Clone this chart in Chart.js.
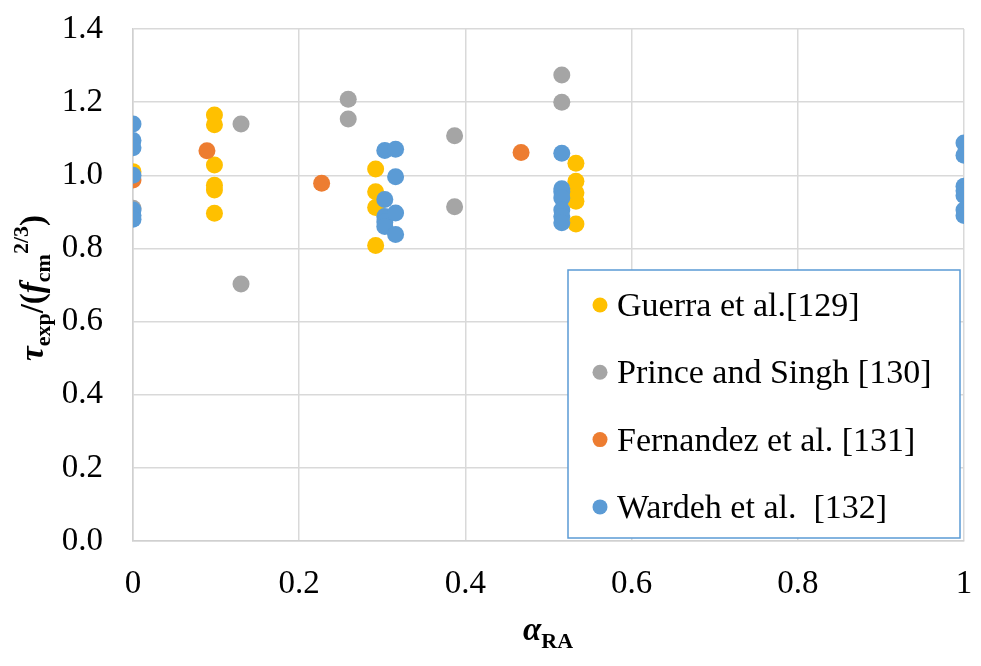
<!DOCTYPE html>
<html>
<head>
<meta charset="utf-8">
<script src="https://cdn.jsdelivr.net/npm/chart.js@4/dist/chart.umd.min.js"></script>
<style>
  body { margin: 0; background: #fff; }
  #wrap { width: 981px; height: 666px; }
</style>
</head>
<body>
<div id="wrap"><canvas id="shear_ratio" width="981" height="666"></canvas></div>
<script>
// Guerra et al. [129]
var guerraX = [0, 0.098, 0.098, 0.098, 0.098, 0.098, 0.098, 0.292, 0.292, 0.292, 0.292, 0.533, 0.533, 0.533, 0.533, 0.533];
var guerraY = [1.01, 1.165, 1.138, 1.028, 0.973, 0.96, 0.896, 1.017, 0.955, 0.912, 0.808, 1.033, 0.984, 0.952, 0.929, 0.867];

// Prince and Singh [130]
var princeX = [0, 0.13, 0.13, 0.259, 0.259, 0.387, 0.387, 0.516, 0.516];
var princeY = [0.91, 1.14, 0.703, 1.208, 1.154, 1.108, 0.914, 1.274, 1.2];

// Fernandez et al. [131]
var fernandezX = [0, 0.089, 0.227, 0.467];
var fernandezY = [0.987, 1.067, 0.978, 1.062];

// Wardeh et al. [132]
var wardehX = [0, 0, 0, 0, 0, 0, 0, 0.303, 0.303, 0.303, 0.303, 0.303, 0.316, 0.316, 0.316, 0.316,
               0.516, 0.516, 0.516, 0.516, 0.516, 0.516, 0.516, 1, 1, 1, 1, 1, 1, 1];
var wardehY = [1.14, 1.095, 1.075, 1.0, 0.905, 0.89, 0.88, 1.068, 0.934, 0.887, 0.872, 0.86, 1.071, 0.996, 0.897, 0.838,
               1.06, 0.963, 0.955, 0.938, 0.905, 0.887, 0.87, 1.088, 1.055, 0.97, 0.958, 0.945, 0.905, 0.89];

var xTicks = [0, 0.2, 0.4, 0.6, 0.8, 1];
var yTicks = [0, 0.2, 0.4, 0.6, 0.8, 1.0, 1.2, 1.4];

var SERIF = "'Liberation Serif', 'Times New Roman', serif";

function toPoints(xs, ys) {
    return xs.map(function (x, i) { return { x: x, y: ys[i] }; });
}

function series(label, xs, ys, color, order) {
    return {
        label: label,
        data: toPoints(xs, ys),
        backgroundColor: color,
        borderWidth: 0,
        pointRadius: 8.5,
        pointHoverRadius: 8.5,
        order: order
    };
}

// legend box drawn inside the plot area
var boxLegend = {
    id: 'boxLegend',
    afterDraw: function (chart) {
        var ctx = chart.ctx;
        ctx.save();
        ctx.fillStyle = '#fff';
        ctx.fillRect(568, 270, 392, 268);
        ctx.strokeStyle = '#5b9bd5';
        ctx.lineWidth = 1.5;
        ctx.strokeRect(568, 270, 392, 268);
        ctx.font = '34px ' + SERIF;
        ctx.textBaseline = 'middle';
        var sets = chart.data.datasets;
        for (var i = 0; i < sets.length; i++) {
            var y = 305 + i * 67.3;
            ctx.fillStyle = sets[i].backgroundColor;
            ctx.beginPath();
            ctx.arc(600, y, 7.5, 0, Math.PI * 2);
            ctx.fill();
            ctx.fillStyle = '#000';
            ctx.fillText(sets[i].label, 617, y + 2);
        }
        ctx.restore();
    }
};

// axis titles with sub/superscripts
function drawRuns(ctx, runs, x, y) {
    var total = 0;
    runs.forEach(function (r) { ctx.font = r.font; total += ctx.measureText(r.text).width; });
    var cx = x - total / 2;
    runs.forEach(function (r) {
        ctx.font = r.font;
        ctx.fillText(r.text, cx, y + (r.dy || 0));
        cx += ctx.measureText(r.text).width;
    });
}

var axisTitles = {
    id: 'axisTitles',
    afterDraw: function (chart) {
        var ctx = chart.ctx;
        var big = 'bold 33px ' + SERIF, bigIt = 'bold italic 33px ' + SERIF, small = 'bold 22px ' + SERIF;
        ctx.save();
        ctx.fillStyle = '#000';
        ctx.textBaseline = 'alphabetic';
        drawRuns(ctx, [
            { text: 'α', font: bigIt },
            { text: 'RA', font: small, dy: 8 }
        ], 548, 640);
        ctx.translate(43, 288);
        ctx.rotate(-Math.PI / 2);
        drawRuns(ctx, [
            { text: 'τ', font: bigIt },
            { text: 'exp', font: small, dy: 7 },
            { text: '/(', font: big },
            { text: 'f', font: bigIt },
            { text: 'cm', font: small, dy: 7 },
            { text: '2/3', font: small, dy: -15 },
            { text: ')', font: big }
        ], 0, 0);
        ctx.restore();
    }
};

new Chart(document.getElementById('shear_ratio'), {
    type: 'scatter',
    data: {
        datasets: [
            series('Guerra et al.[129]', guerraX, guerraY, '#ffc000', 3),
            series('Prince and Singh [130]', princeX, princeY, '#a5a5a5', 2),
            series('Fernandez et al. [131]', fernandezX, fernandezY, '#ed7d31', 1),
            series('Wardeh et al.  [132]', wardehX, wardehY, '#5b9bd5', 0)
        ]
    },
    options: {
        responsive: false,
        animation: false,
        layout: { padding: { top: 29, right: 17, left: 0, bottom: 0 } },
        plugins: {
            legend: { display: false },
            tooltip: { enabled: false }
        },
        scales: {
            x: {
                type: 'linear',
                min: xTicks[0],
                max: xTicks[xTicks.length - 1],
                afterBuildTicks: function (s) { s.ticks = xTicks.map(function (v) { return { value: v }; }); },
                afterFit: function (s) { s.height = 125; s.paddingLeft = 0; s.paddingRight = 0; },
                ticks: {
                    padding: 24,
                    color: '#000',
                    font: { family: SERIF, size: 33 },
                    callback: function (v) { return String(Number(v.toFixed(1))); }
                },
                grid: { color: '#d9d9d9', lineWidth: 1.5, drawTicks: false },
                border: { color: '#d0d0d0', width: 1.5 }
            },
            y: {
                type: 'linear',
                min: yTicks[0],
                max: yTicks[yTicks.length - 1],
                afterBuildTicks: function (s) { s.ticks = yTicks.map(function (v) { return { value: v }; }); },
                afterFit: function (s) { s.width = 133; s.paddingTop = 0; s.paddingBottom = 0; },
                ticks: {
                    padding: 30,
                    color: '#000',
                    font: { family: SERIF, size: 33 },
                    callback: function (v) { return v.toFixed(1); }
                },
                grid: { color: '#d9d9d9', lineWidth: 1.5, drawTicks: false },
                border: { color: '#d0d0d0', width: 1.5 }
            }
        }
    },
    plugins: [boxLegend, axisTitles]
});
</script>
</body>
</html>
